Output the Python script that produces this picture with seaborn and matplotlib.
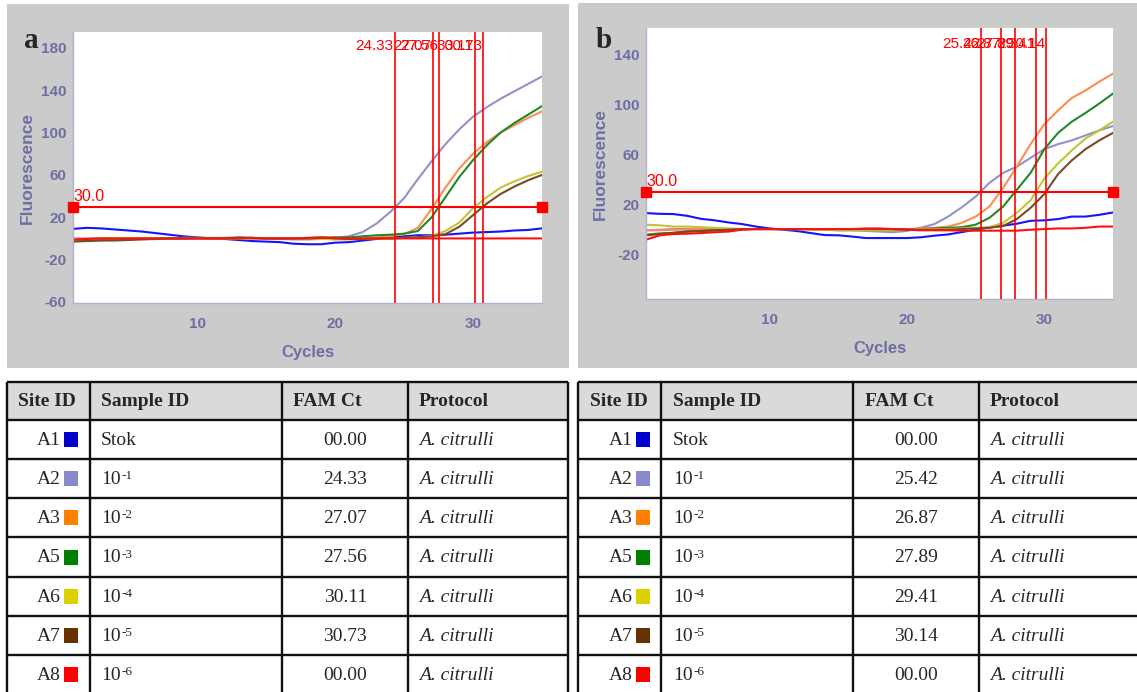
import numpy as np
import pandas as pd
import matplotlib
matplotlib.use("Agg")
import matplotlib.pyplot as plt
import seaborn as sns
from matplotlib.patches import Rectangle

# ---------------- data ----------------
cycles = list(range(1, 36))
sites = ["A1", "A2", "A3", "A5", "A6", "A7", "A8"]
sample_base = ["Stok", "10", "10", "10", "10", "10", "10"]
sample_exp = ["", "-1", "-2", "-3", "-4", "-5", "-6"]
protocol = "A. citrulli"
threshold = 30.0
threshold_label = "30.0"

# panel a curves (cycles 1..35)
a_A1 = [9, 10, 9.5, 8.5, 7.5, 6.5, 5, 3.5, 2, 1, 0, -0.5, -1.5, -2.5, -3, -3.5, -5, -5.5, -5.5, -4,
        -3.5, -2, -0.5, 1, 2, 3, 3, 3.5, 4.5, 5.5, 6, 6.5, 7.5, 8, 9.5]
a_A2 = [0, 0, 0, 0, 0, 0, 0, 0, 0.5, 0.5, 0, 0, 0, -0.5, -0.5, -0.5, -1, -1, -0.5, 0.5,
        2, 6, 14, 25, 38, 56, 73, 89, 103, 115, 124, 132, 139, 146, 153]
a_A3 = [-1.5, -1, -0.5, 0, 0, 0, 0, 0, 0, 0, 0, 0, 0.5, 0.5, 0, 0, 0, 0.5, 1, 0.5,
        0, 0.5, 1, 2, 4, 10, 28, 48, 66, 80, 91, 100, 107, 114, 120]
a_A5 = [-2.5, -2, -1.5, -1, -0.5, 0, 0, 0, 0, 0.5, 0.5, 0.5, 1, 0.5, 0, 0, 0, 0, 0.5, 1,
        1, 2, 3, 3.5, 4.5, 7, 20, 39, 58, 74, 88, 100, 109, 117, 125]
a_A6 = [-1, -0.5, 0, 0, 0, 0, 0, 0, 0.5, 0.5, 0, 0, 0, 0, 0, 0, 0, 0, -0.5, -1,
        -1, -0.5, 0, 0, 0.5, 1, 2.5, 7, 15, 28.5, 39, 48, 54, 59, 63]
a_A7 = [-3, -2.5, -2, -2, -1.5, -1, -0.5, 0, 0, 0, 0, 0, 0, 0.5, 0, 0, 0, 0.5, 1, 0,
        -0.5, -0.5, 0, 0, 0.5, 1, 2, 4, 11, 22, 33, 42, 49, 55, 60]
a_A8 = [-1, -0.5, 0, 0, 0, 0, 0, 0, 0, 0, 0, 0, 0.5, 0.5, 0, 0, 0, 0, 0.5, 0.5,
        0, 0, 0, 0, 0, 0, 0, 0, 0, 0, 0, 0, 0, 0, 0]
ct_a = [24.33, 27.07, 27.56, 30.11, 30.73]
fam_ct_a = ["00.00", "24.33", "27.07", "27.56", "30.11", "30.73", "00.00"]

# panel b curves (cycles 1..35)
b_A1 = [12.8, 12.2, 12, 10.6, 8.2, 7, 5.3, 4, 2, 0.5, -0.5, -1.6, -3.2, -4.8, -5, -6, -7.2, -7.2, -7.2, -7.2,
        -6.6, -5.3, -4.3, -2.4, -0.5, 1.3, 2.7, 4.3, 6.6, 7, 8, 10, 10, 11.4, 13.3]
b_A2 = [-1, -0.5, 0, 0, 0, 0, 0, 0, 0, 0, 0, 0, 0, -0.5, -1, -1, -1.5, -2, -2.5, -1.5,
        1, 4, 10, 17.5, 26, 37, 45, 50, 57, 64, 68, 71, 75, 79, 82.5]
b_A3 = [-1, -1, -0.5, -0.5, 0, 0, 0, 0, 0, 0, 0, 0, 0, 0, 0, 0, 0, -0.5, -0.5, 0,
        0.5, 1, 2, 5, 10, 18, 33, 50, 68, 84, 95, 105, 111, 118, 124.5]
b_A5 = [-4.5, -3.5, -3, -2, -1.5, -1, -0.5, 0, 0, 0, 0, 0, 0, 0, 0, 0, 0, 0, 0, 0,
        0, 0.5, 1, 1.5, 3.5, 9, 18, 31.5, 45, 64, 77, 86, 93, 100.5, 108.5]
b_A6 = [3.5, 3, 2, 2, 1.5, 1, 0.5, 0, 0, 0, 0, 0, -0.5, -0.5, -1, -1, -1, -1, -1, -0.5,
        0, 0, 0, 0.5, 1, 1.5, 5, 13, 23, 40.5, 52.5, 63, 72.5, 79, 86]
b_A7 = [-5, -4, -3, -2, -1.5, -1, -0.5, 0, 0, 0, 0, 0, 0, 0, 0, 0, 0, 0, 0, -0.5,
        -0.5, -0.5, -0.5, 0, 0.5, 1, 2.5, 8, 17, 28, 44, 55, 64, 71, 77]
b_A8 = [-8.5, -5, -4, -3.7, -3.2, -2.5, -2, -0.5, 0, 0, 0, 0, 0, 0, 0, 0, 0.5, 0.5, 0, -0.5,
        -1, -1, -1, -1.3, -1.3, -1.3, -1.3, -1.3, -0.5, 0, 0.5, 0.5, 1, 2, 2]
ct_b = [25.42, 26.87, 27.89, 29.41, 30.14]
fam_ct_b = ["00.00", "25.42", "26.87", "27.89", "29.41", "30.14", "00.00"]

line_colors = ["#1414ff", "#9292c8", "#ff8c50", "#1e8a28", "#c4c432", "#7a4a26", "#ff1010"]
square_colors = ["#0000cc", "#8888cc", "#ff8000", "#008000", "#dcd000", "#663300", "#ff0000"]

# ---------------- style ----------------
sns.set_style("white")
plt.rcParams["font.family"] = ["Liberation Sans", "DejaVu Sans"]
plt.rcParams["axes.unicode_minus"] = False

W, H = 1137, 692
fig = plt.figure(figsize=(W / 100, H / 100), dpi=100)
fig.patch.set_facecolor("white")

canvas = fig.add_axes([0, 0, 1, 1])
canvas.set_xlim(0, W)
canvas.set_ylim(H, 0)
canvas.axis("off")

GRAY = "#cbcbcb"
canvas.add_patch(Rectangle((7, 4), 562, 364, facecolor=GRAY, edgecolor="none"))
canvas.add_patch(Rectangle((578, 3), 560, 365, facecolor=GRAY, edgecolor="none"))

TICK = "#6e6ea4"
RED = "#ff0000"


def px_axes(l, t, r, b):
    return fig.add_axes([l / W, (H - b) / H, (r - l) / W, (b - t) / H])


def draw_panel(ax, curves, cts, ylim, yticks, yminor, label_drop):
    rows = []
    for s, vals in zip(sites, curves):
        for c, v in zip(cycles, vals):
            rows.append({"Cycle": c, "Fluorescence": v, "Site": s})
    df = pd.DataFrame(rows)
    sns.lineplot(data=df, x="Cycle", y="Fluorescence", hue="Site", hue_order=sites,
                 palette=line_colors, estimator=None, sort=False, linewidth=1.5,
                 legend=False, ax=ax)
    ax.set_facecolor("white")
    ax.set_xlim(1, 35)
    ax.set_ylim(*ylim)
    for ct in cts:
        ax.axvline(ct, color=RED, lw=1.2, zorder=5)
        ax.annotate(f"{ct:.2f}", xy=(ct, 1), xycoords=("data", "axes fraction"),
                    xytext=(-1, -label_drop), textcoords="offset pixels",
                    ha="right", va="baseline", color=RED, fontsize=11, zorder=6)
    ax.axhline(threshold, color=RED, lw=1.5, zorder=5)
    ax.plot([1, 35], [threshold, threshold], ls="none", marker="s", ms=7,
            color=RED, clip_on=False, zorder=7)
    ax.annotate(threshold_label, xy=(1, threshold), xytext=(0, 3), textcoords="offset pixels",
                ha="left", va="bottom", color=RED, fontsize=11.5, zorder=6)
    ax.set_xticks([10, 20, 30])
    ax.set_xticks([15, 25, 35], minor=True)
    ax.set_yticks(yticks)
    ax.set_yticks(yminor, minor=True)
    ax.tick_params(axis="both", which="both", colors=TICK, direction="out")
    ax.tick_params(axis="x", which="major", length=6, pad=4, labelsize=11)
    ax.tick_params(axis="x", which="minor", length=5)
    ax.tick_params(axis="y", which="major", length=4, pad=1, labelsize=11)
    ax.tick_params(axis="y", which="minor", length=3)
    for lab in ax.get_xticklabels() + ax.get_yticklabels():
        lab.set_fontweight("bold")
        lab.set_color(TICK)
    for s in ("top", "right"):
        ax.spines[s].set_visible(False)
    for s in ("left", "bottom"):
        ax.spines[s].set_color("#b0b0d0")
        ax.spines[s].set_linewidth(1)
    ax.set_xlabel("Cycles", color=TICK, fontsize=12, fontweight="bold", labelpad=10)
    ax.set_ylabel("Fluorescence", color=TICK, fontsize=12.5, fontweight="bold", labelpad=4)
    ax.grid(False)


ax_a = px_axes(73, 32, 542, 303)
draw_panel(ax_a, [a_A1, a_A2, a_A3, a_A5, a_A6, a_A7, a_A8], ct_a, (-61, 195),
           [-60, -20, 20, 60, 100, 140, 180], [-40, 0, 40, 80, 120, 160], 18)
ax_b = px_axes(646, 28, 1113, 299)
draw_panel(ax_b, [b_A1, b_A2, b_A3, b_A5, b_A6, b_A7, b_A8], ct_b, (-56, 161),
           [-20, 20, 60, 100, 140], [-40, 0, 40, 80, 120], 20)

canvas.text(31, 40, "a", fontsize=21, fontweight="bold", family="Liberation Serif",
            ha="center", va="center")
canvas.text(604, 40, "b", fontsize=21, fontweight="bold", family="Liberation Serif",
            ha="center", va="center")

# ---------------- tables ----------------
row_edges = [382, 420, 459, 498, 537, 577, 616, 655, 694]
headers = ["Site ID", "Sample ID", "FAM Ct", "Protocol"]
SERIF = ["Liberation Serif", "DejaVu Serif"]
FS = 14


def draw_table(col_edges, head_x, site_right, sq_center, sample_x, ct_right, prot_x, fam):
    x0, x1 = col_edges[0], col_edges[-1]
    canvas.add_patch(Rectangle((x0, row_edges[0]), x1 - x0, row_edges[1] - row_edges[0],
                               facecolor="#dadada", edgecolor="none"))
    for y in row_edges:
        canvas.plot([x0, x1], [y, y], color="#111111", lw=1.7, solid_capstyle="butt")
    for x in col_edges:
        canvas.plot([x, x], [row_edges[0], row_edges[-1]], color="#111111", lw=1.7,
                    solid_capstyle="butt")
    hy = (row_edges[0] + row_edges[1]) / 2 + 1
    for hx, h in zip(head_x, headers):
        canvas.text(hx, hy, h, family=SERIF, fontsize=FS, fontweight="bold",
                    ha="left", va="center")
    for i, s in enumerate(sites):
        cy = (row_edges[i + 1] + row_edges[i + 2]) / 2 + 1
        canvas.text(site_right, cy, s, family=SERIF, fontsize=FS, ha="right", va="center")
        canvas.add_patch(Rectangle((sq_center - 7, cy - 8.5), 14, 15,
                                   facecolor=square_colors[i], edgecolor="none"))
        t = canvas.text(sample_x, cy, sample_base[i], family=SERIF, fontsize=FS,
                        ha="left", va="center")
        if sample_exp[i]:
            canvas.annotate(sample_exp[i], xy=(1.0, 1.0), xycoords=t, xytext=(0.5, 1),
                            textcoords="offset pixels", family=SERIF, fontsize=9.5,
                            ha="left", va="top")
        canvas.text(ct_right, cy, fam[i], family=SERIF, fontsize=FS, ha="right", va="center")
        canvas.text(prot_x, cy, protocol, family=SERIF, fontsize=FS, style="italic",
                    ha="left", va="center")


draw_table([7, 90, 282, 408, 568], [18, 101, 293, 419], 61, 71, 101, 367, 419, fam_ct_a)
draw_table([578, 661, 853, 979, 1140], [590, 673, 865, 990], 633, 643, 673, 938, 990, fam_ct_b)

fig.savefig("out.png", dpi=100, facecolor="white")
